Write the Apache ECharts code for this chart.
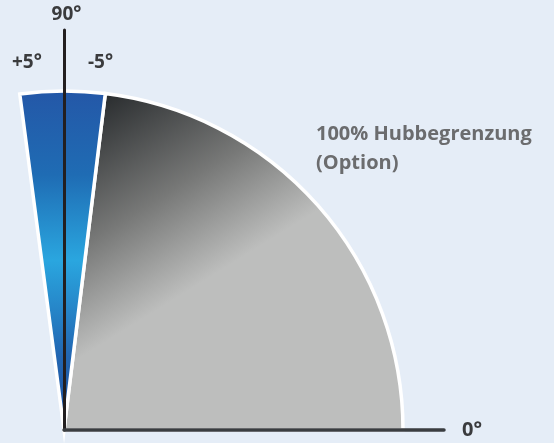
<!DOCTYPE html>
<html>
<head>
<meta charset="utf-8">
<script src="https://cdn.jsdelivr.net/npm/echarts@6/dist/echarts.min.js"></script>
<style>
  html, body { margin: 0; padding: 0; background: #e5edf7; }
  #chart { width: 554px; height: 443px; }
</style>
</head>
<body>
<div id="chart"></div>
<script>
// Daten
const categories = ['Hub']
const grauWinkel = [83]      // 0° bis ca. 83°
const blauWinkel = [14.5]    // Bereich um 90° (-5° ... +5°)
const achsenLabels = { x: '0°', y: '90°', plus: '+5°', minus: '-5°' }
const hinweisText = ['100% Hubbegrenzung', '(Option)']

const chart = echarts.init(document.getElementById('chart'))

const textFarbe = '#3a3b3d'

const option = {
  animation: false,
  backgroundColor: '#e5edf7',
  polar: { center: [64, 430], radius: 339 },
  angleAxis: {
    type: 'value', min: 0, max: 360, startAngle: 0, clockwise: false, show: false
  },
  radiusAxis: { type: 'category', data: categories, show: false },
  grid: { left: 64, right: 110, top: 30, bottom: 13 },
  xAxis: {
    type: 'value', min: 0, max: 1, z: 10,
    axisLine: { lineStyle: { color: '#3a3d40', width: 3.5 } },
    axisTick: { show: false }, axisLabel: { show: false }, splitLine: { show: false },
    name: achsenLabels.x, nameLocation: 'end', nameGap: 18,
    nameTextStyle: { color: textFarbe, fontSize: 20, fontWeight: 'bold', fontFamily: 'Open Sans', padding: [6, 0, 0, 0] }
  },
  yAxis: {
    type: 'value', min: 0, max: 1, z: 10,
    axisLine: { lineStyle: { color: '#231f20', width: 3 } },
    axisTick: { show: false }, axisLabel: { show: false }, splitLine: { show: false },
    name: achsenLabels.y, nameLocation: 'end', nameGap: 6,
    nameTextStyle: { color: textFarbe, fontSize: 19, fontWeight: 'bold', fontFamily: 'Open Sans', padding: [0, 0, 0, 5] }
  },
  graphic: [
    { type: 'text', left: 12, top: 53, style: { text: achsenLabels.plus, fill: textFarbe, font: 'bold 19px "Open Sans"' } },
    { type: 'text', left: 88, top: 53, style: { text: achsenLabels.minus, fill: textFarbe, font: 'bold 19px "Open Sans"' } },
    { type: 'text', left: 316, top: 120, style: { text: hinweisText.join('\n'), fill: '#6b6c6e', font: 'bold 20px "Open Sans"', lineHeight: 29 } }
  ],
  series: [
    {
      name: 'grau', type: 'bar', coordinateSystem: 'polar', stack: 'winkel',
      barWidth: '100%', data: grauWinkel, z: 2,
      itemStyle: {
        borderColor: '#ffffff', borderWidth: 3.5,
        color: {
          type: 'linear', x: 0.12, y: 0.02, x2: 0.44, y2: 0.54,
          colorStops: [
            { offset: 0, color: '#2b2e30' },
            { offset: 0.55, color: '#777877' },
            { offset: 1, color: '#bdbebd' }
          ]
        }
      }
    },
    {
      name: 'blau', type: 'bar', coordinateSystem: 'polar', stack: 'winkel',
      barWidth: '100%', data: blauWinkel, z: 2,
      itemStyle: {
        borderColor: '#ffffff', borderWidth: 3.5,
        color: {
          type: 'linear', x: 0, y: 0, x2: 0, y2: 1,
          colorStops: [
            { offset: 0, color: '#2457a7' },
            { offset: 0.25, color: '#1f6cb4' },
            { offset: 0.5, color: '#2aa6df' },
            { offset: 0.78, color: '#2266b2' },
            { offset: 1, color: '#1d4e9a' }
          ]
        }
      }
    }
  ]
}

chart.setOption(option)
</script>
</body>
</html>
